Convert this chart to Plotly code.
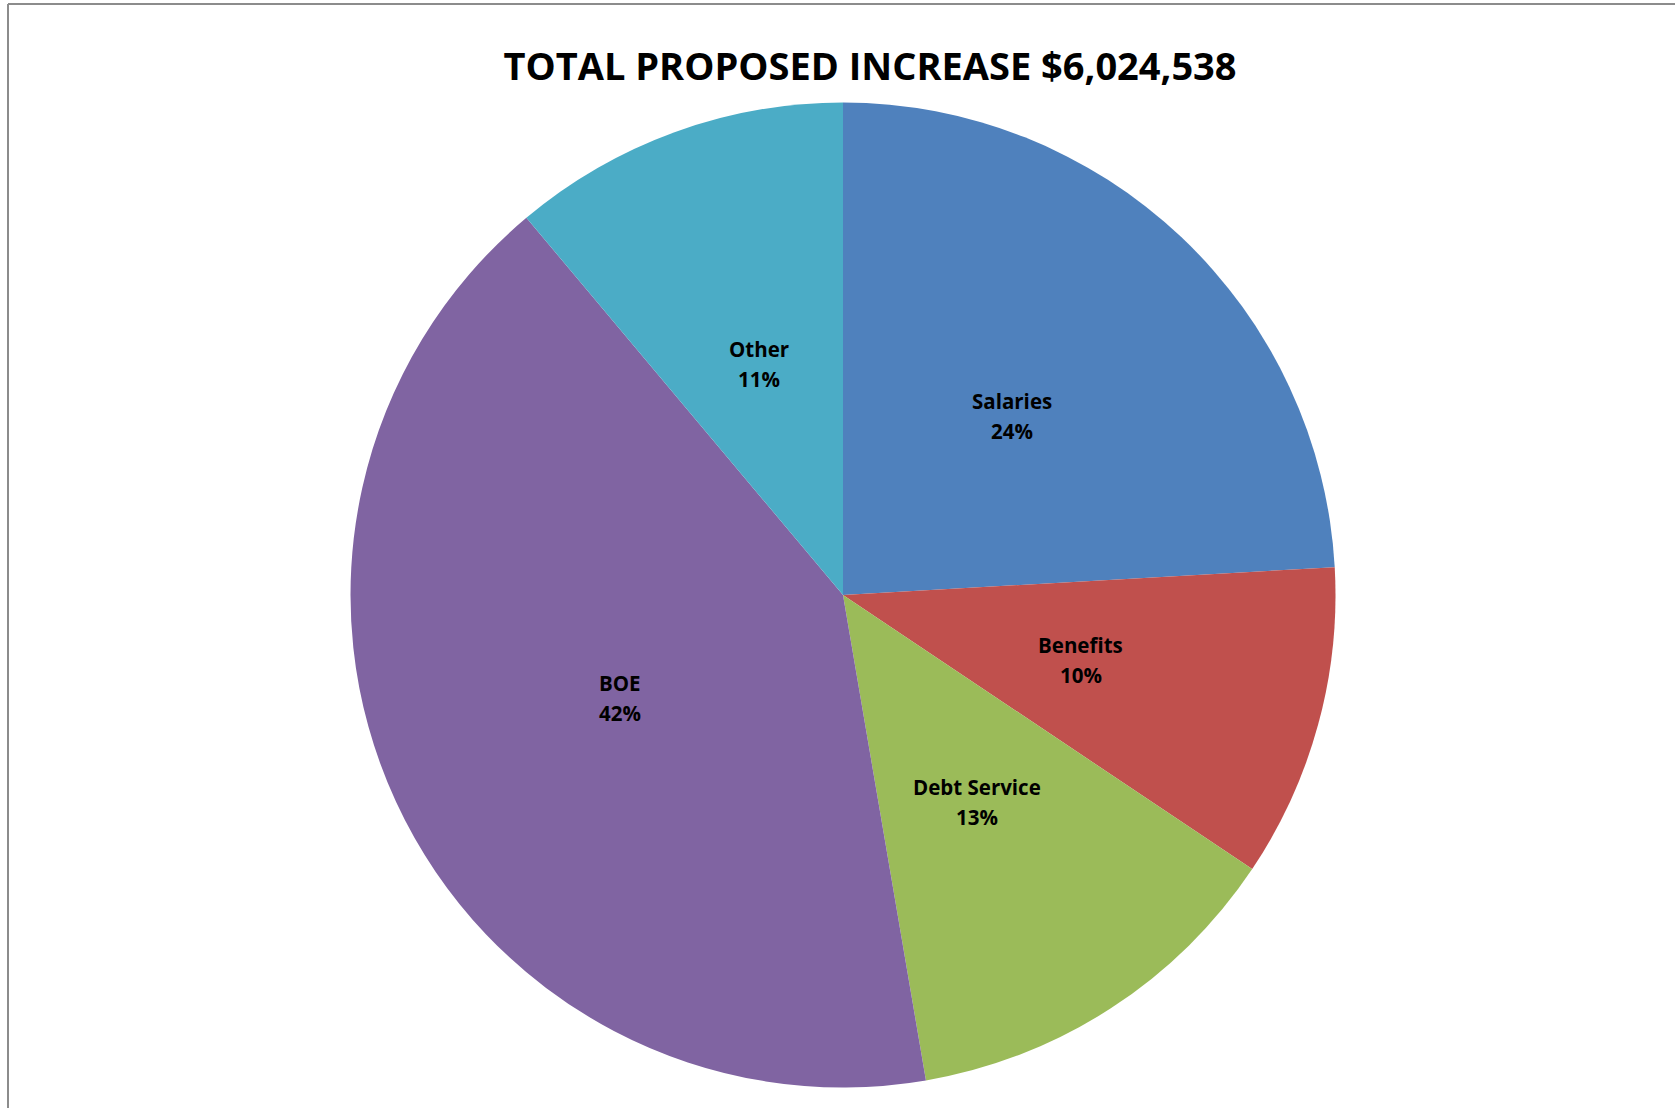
import math
import plotly.graph_objects as go

categories = ["Salaries", "Benefits", "Debt Service", "BOE", "Other"]
values = [1452000, 620000, 778000, 2505000, 669538]
colors = ["#4F81BD", "#C0504D", "#9BBB59", "#8064A2", "#4BACC6"]
title_text = "TOTAL PROPOSED INCREASE $6,024,538"

W, H = 1675, 1108
cx, cy, r = 843, 595, 492.5
FONT = "Open Sans, Lato, sans-serif"

fig = go.Figure(go.Pie(
    labels=categories,
    values=values,
    sort=False,
    direction="clockwise",
    rotation=0,
    marker=dict(colors=colors, line=dict(width=0)),
    textinfo="none",
    showlegend=False,
    hoverinfo="skip",
    domain=dict(x=[(cx - r) / W, (cx + r) / W], y=[(H - cy - r) / H, (H - cy + r) / H]),
))

# data labels at half radius, mid-angle of each slice (Excel-style)
total = sum(values)
annotations = []
cum = 0
for lab, v in zip(categories, values):
    mid = (cum + v / 2) / total * 2 * math.pi
    cum += v
    px = cx + 0.5 * r * math.sin(mid)
    py = cy - 0.5 * r * math.cos(mid)
    pct = round(v / total * 100)
    for txt, shift in ((lab, 15), (f"{pct}%", -15)):
        annotations.append(dict(
            text=f"<b>{txt}</b>",
            x=px / W, y=1 - py / H, xref="paper", yref="paper",
            xanchor="center", yanchor="middle", showarrow=False, align="center",
            yshift=shift,
            font=dict(family=FONT, size=20.5, color="black"),
        ))

fig.update_layout(
    width=W, height=H,
    margin=dict(l=0, r=0, t=0, b=0),
    paper_bgcolor="white",
    title=dict(text="<b>" + title_text + "</b>", x=870 / W, xanchor="center",
               y=1 - 67 / H, yanchor="middle",
               font=dict(family=FONT, size=38, color="black")),
    annotations=annotations,
    shapes=[
        dict(type="line", xref="paper", yref="paper", x0=8 / W, x1=1.01, y0=1 - 4 / H, y1=1 - 4 / H,
             line=dict(color="#8C8C8C", width=2)),
        dict(type="line", xref="paper", yref="paper", x0=8 / W, x1=8 / W, y0=1 - 4 / H, y1=-0.01,
             line=dict(color="#8C8C8C", width=2)),
    ],
)

fig.write_html("out.html")
